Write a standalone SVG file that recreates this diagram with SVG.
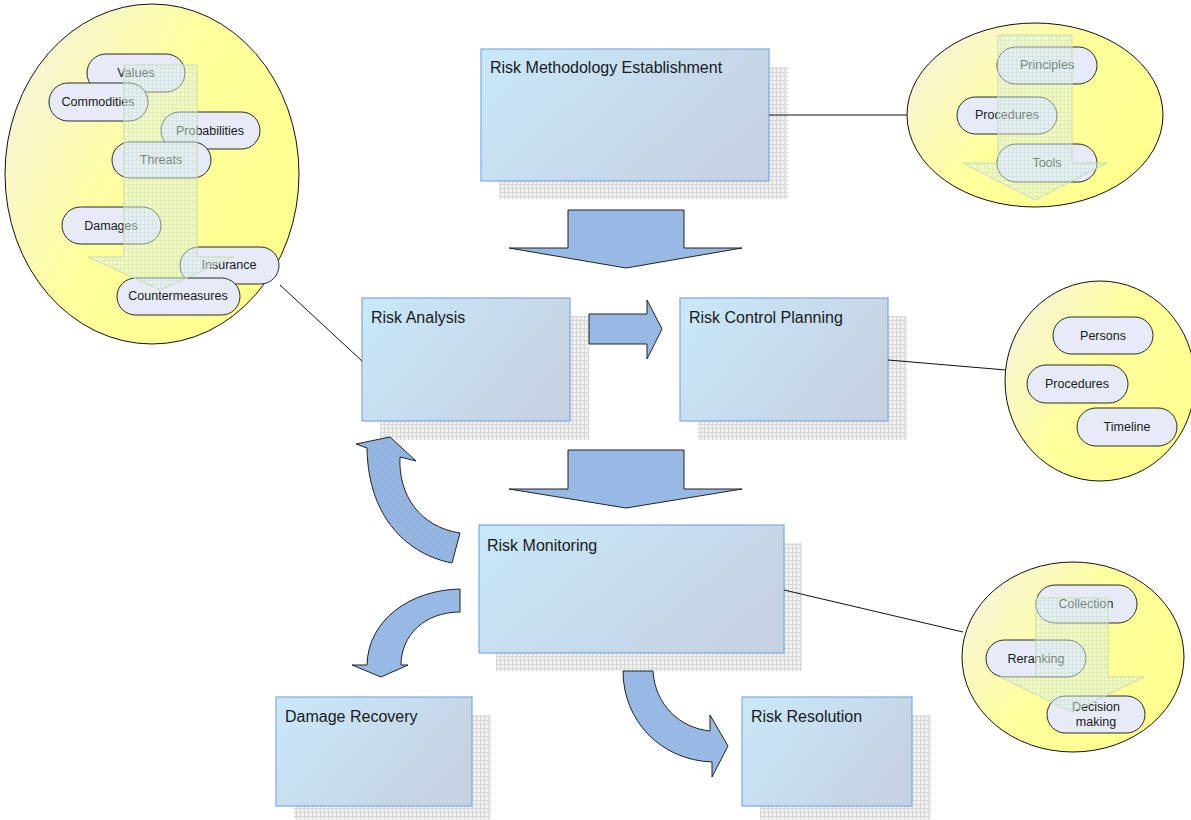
<svg xmlns="http://www.w3.org/2000/svg" width="1191" height="820" viewBox="0 0 1191 820">
<defs>
<pattern id="grid" width="4" height="4" patternUnits="userSpaceOnUse">
<rect width="4" height="4" fill="#f0f0f0"/>
<path d="M0,0.5H4M0.5,0V4" stroke="#d8d8d8" stroke-width="1"/>
</pattern>
<pattern id="ogrid" width="4" height="4" patternUnits="userSpaceOnUse">
<rect width="4" height="4" fill="#e4f4ee"/>
<path d="M0,0.5H4M0.5,0V4" stroke="#c6e0cc" stroke-width="1"/>
</pattern>
<pattern id="dots" width="4" height="4" patternUnits="userSpaceOnUse">
<rect width="4" height="4" fill="#98b8e2"/>
<circle cx="1" cy="1" r="0.8" fill="#86a8d8"/>
<circle cx="3" cy="3" r="0.8" fill="#86a8d8"/>
</pattern>
<linearGradient id="boxg" x1="0" y1="0" x2="1" y2="0.5">
<stop offset="0" stop-color="#c8e9fb"/>
<stop offset="1" stop-color="#c6d3e4"/>
</linearGradient>
<linearGradient id="ellg" x1="0" y1="0" x2="1" y2="0.6">
<stop offset="0" stop-color="#f4f2e6"/>
<stop offset="0.55" stop-color="#ffff9c"/>
<stop offset="1" stop-color="#ffff90"/>
</linearGradient>
</defs>
<style>
.shadow{fill:url(#grid)}
.box{fill:url(#boxg);stroke:#7ea9e2;stroke-width:1.2}
.title{font-family:"Liberation Sans",Arial,sans-serif;font-size:16px;fill:#1a1a1a}
.ell{fill:url(#ellg);stroke:#111;stroke-width:1}
.pill{fill:#e6ebf7;stroke:#2a2a2a;stroke-width:1}
.pt{font-family:"Liberation Sans",Arial,sans-serif;font-size:12.5px;fill:#1a1a1a;text-anchor:middle}
.ov{fill:url(#ogrid);fill-opacity:0.5;stroke:#c9dab4;stroke-width:1}
.big{fill:#98b9e3;stroke:#222;stroke-width:1}
.conn{stroke:#111;stroke-width:1;fill:none}
</style>
<rect width="1191" height="820" fill="#ffffff"/>

<g id="n-methodology">
<rect class="shadow" x="499" y="67" width="289" height="132"/>
<rect class="box" x="481" y="49" width="288" height="132"/>
<text class="title" x="490" y="73">Risk Methodology Establishment</text>
</g>
<g id="n-analysis">
<rect class="shadow" x="380" y="316" width="209" height="124"/>
<rect class="box" x="362" y="298" width="208" height="123"/>
<text class="title" x="371" y="323">Risk Analysis</text>
</g>
<g id="n-control">
<rect class="shadow" x="698" y="316" width="209" height="124"/>
<rect class="box" x="680" y="298" width="208" height="123"/>
<text class="title" x="689" y="323">Risk Control Planning</text>
</g>
<g id="n-monitoring">
<rect class="shadow" x="496" y="543" width="306" height="128"/>
<rect class="box" x="479" y="525" width="305" height="128"/>
<text class="title" x="487" y="551">Risk Monitoring</text>
</g>
<g id="n-damage">
<rect class="shadow" x="294" y="715" width="197" height="110"/>
<rect class="box" x="276" y="697" width="196" height="109"/>
<text class="title" x="285" y="722">Damage Recovery</text>
</g>
<g id="n-resolution">
<rect class="shadow" x="760" y="715" width="171" height="110"/>
<rect class="box" x="742" y="697" width="170" height="109"/>
<text class="title" x="751" y="722">Risk Resolution</text>
</g>

<g id="connectors">
<line class="conn" x1="280" y1="285" x2="362" y2="361"/>
<line class="conn" x1="769" y1="115" x2="907" y2="115"/>
<line class="conn" x1="888" y1="360" x2="1006" y2="370"/>
<line class="conn" x1="784" y1="590" x2="963" y2="632"/>
<path class="big" d="M568,210H684V248H742L626,268L509,248H568Z"/>
<path class="big" d="M568,450H684V489H742L626,508L509,489H568Z"/>
<path class="big" d="M589,314H647V300L662,329L647,359V344H589Z"/>
<path class="big" style="fill:url(#dots)" d="M452,563C410,555 368,520 367,448L356,444L390,437L416,461L400,457C398,495 420,527 460,533Z"/>
<path class="big" d="M460,589C410,590 368,620 367,665L352,665L381,677L408,665L401,665C401,635 425,612 460,612Z"/>
<path class="big" d="M623,671C623,720 660,760 712,762L712,777L728,746L710,715L710,731C680,728 655,705 653,671Z"/>
</g>

<g id="n-analysis-items">
<ellipse class="ell" cx="152" cy="174" rx="147" ry="170"/>
<rect class="pill" x="87" y="54" width="98" height="38" rx="19"/>
<text class="pt" x="136" y="77">Values</text>
<rect class="pill" x="49" y="83" width="99" height="38" rx="19"/>
<text class="pt" x="98" y="106">Commodities</text>
<rect class="pill" x="161" y="112" width="99" height="37" rx="18.5"/>
<text class="pt" x="210" y="135">Probabilities</text>
<rect class="pill" x="112" y="142" width="99" height="36" rx="18"/>
<text class="pt" x="161" y="164">Threats</text>
<rect class="pill" x="62" y="207" width="99" height="37" rx="18.5"/>
<text class="pt" x="111" y="230">Damages</text>
<rect class="pill" x="180" y="247" width="99" height="37" rx="18.5"/>
<text class="pt" x="229" y="269">Insurance</text>
<rect class="pill" x="117" y="278" width="123" height="37" rx="18.5"/>
<text class="pt" x="178" y="300">Countermeasures</text>
<path class="ov" d="M124,65H197V257H233L160,290L88,257H124Z"/>
</g>

<g id="n-methodology-items">
<ellipse class="ell" cx="1035" cy="115" rx="128" ry="92"/>
<rect class="pill" x="997" y="47" width="100" height="37" rx="18.5"/>
<text class="pt" x="1047" y="69">Principles</text>
<rect class="pill" x="957" y="97" width="100" height="37" rx="18.5"/>
<text class="pt" x="1007" y="119">Procedures</text>
<rect class="pill" x="997" y="144" width="100" height="38" rx="19"/>
<text class="pt" x="1047" y="167">Tools</text>
<path class="ov" d="M998,35H1072V163H1107L1035,200L963,163H998Z"/>
</g>

<g id="n-control-items">
<ellipse class="ell" cx="1100" cy="381" rx="95" ry="100"/>
<rect class="pill" x="1053" y="317" width="100" height="37" rx="18.5"/>
<text class="pt" x="1103" y="340">Persons</text>
<rect class="pill" x="1027" y="365" width="101" height="38" rx="19"/>
<text class="pt" x="1077" y="388">Procedures</text>
<rect class="pill" x="1077" y="408" width="100" height="38" rx="19"/>
<text class="pt" x="1127" y="431">Timeline</text>
</g>

<g id="n-monitoring-items">
<ellipse class="ell" cx="1073" cy="657" rx="111" ry="95"/>
<rect class="pill" x="1036" y="585" width="101" height="38" rx="19"/>
<text class="pt" x="1086" y="608">Collection</text>
<rect class="pill" x="986" y="640" width="100" height="37" rx="18.5"/>
<text class="pt" x="1036" y="663">Reranking</text>
<rect class="pill" x="1047" y="696" width="98" height="37" rx="18.5"/>
<text class="pt" x="1096" y="711">Decision</text>
<text class="pt" x="1096" y="726">making</text>
<path class="ov" d="M1036,598H1108V677H1144L1072,712L1000,677H1036Z"/>
</g>
</svg>
